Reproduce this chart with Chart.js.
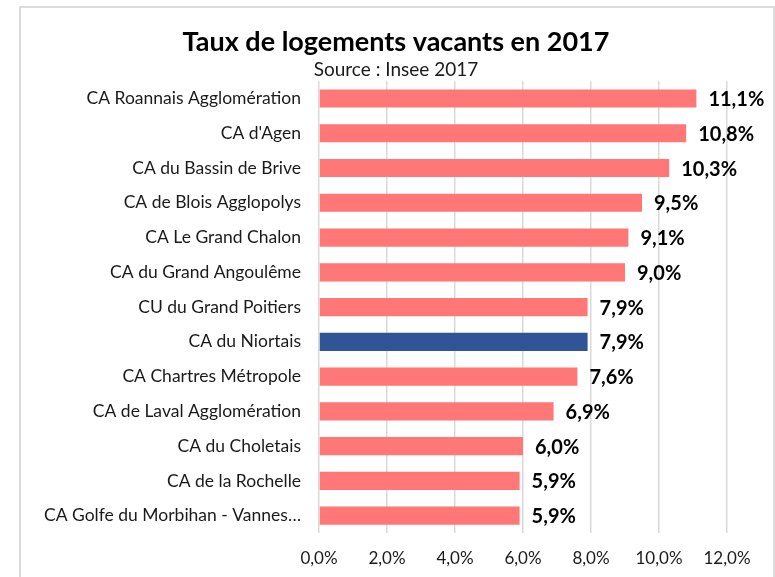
<!DOCTYPE html>
<html>
<head>
<meta charset="utf-8">
<script src="https://cdn.jsdelivr.net/npm/chart.js@4/dist/chart.umd.min.js"></script>
<style>
  html, body { margin: 0; padding: 0; background: #fff; }
  #wrap { position: relative; width: 775px; height: 577px; overflow: hidden; }
  #frame { position: absolute; left: 19px; top: 6px; width: 756px; height: 620px;
           border: 2px solid #dcdcdc; box-sizing: border-box; }
  canvas { position: absolute; left: 0; top: 0; }
</style>
</head>
<body>
<div id="wrap">
  <div id="frame"></div>
  <canvas id="chart" width="775" height="577"></canvas>
</div>
<script>
const categories = [
  'CA Roannais Agglomération',
  "CA d'Agen",
  'CA du Bassin de Brive',
  'CA de Blois Agglopolys',
  'CA Le Grand Chalon',
  'CA du Grand Angoulême',
  'CU du Grand Poitiers',
  'CA du Niortais',
  'CA Chartres Métropole',
  'CA de Laval Agglomération',
  'CA du Choletais',
  'CA de la Rochelle',
  'CA Golfe du Morbihan - Vannes…',
];
const vacancyRates = [11.1, 10.8, 10.3, 9.5, 9.1, 9.0, 7.9, 7.9, 7.6, 6.9, 6.0, 5.9, 5.9];
const highlighted = 'CA du Niortais';

const BAR_COLOUR = '#ff7777';
const HIGHLIGHT_COLOUR = '#2f5597';
const FONT = 'Lato, "Open Sans", sans-serif';
const TEXT = '#1a1a1a';

const fmt = (v) => v.toFixed(1).replace('.', ',') + '%';

// value labels to the right of each bar
const valueLabels = {
  id: 'valueLabels',
  afterDatasetsDraw(chart) {
    const { ctx } = chart;
    const meta = chart.getDatasetMeta(0);
    ctx.save();
    ctx.font = 'bold 20px ' + FONT;
    ctx.fillStyle = '#000';
    ctx.textBaseline = 'middle';
    meta.data.forEach((bar, i) => {
      ctx.fillText(fmt(vacancyRates[i]), bar.x + 12, bar.y + 1);
    });
    ctx.restore();
  },
};

new Chart(document.getElementById('chart'), {
  type: 'bar',
  data: {
    labels: categories,
    datasets: [{
      data: vacancyRates,
      backgroundColor: categories.map((c) => (c === highlighted ? HIGHLIGHT_COLOUR : BAR_COLOUR)),
      categoryPercentage: 1,
      barPercentage: 0.52,
    }],
  },
  options: {
    indexAxis: 'y',
    responsive: false,
    animation: false,
    // left padding keeps the title centred like the original
    layout: { padding: { left: 65, right: 48, top: 0, bottom: 0 } },
    plugins: {
      legend: { display: false },
      tooltip: { enabled: false },
      title: {
        display: true,
        text: 'Taux de logements vacants en 2017',
        color: '#000',
        font: { family: FONT, size: 27, weight: 'bold', lineHeight: 1.2 },
        padding: { top: 26, bottom: 0 },
      },
      subtitle: {
        display: true,
        text: 'Source : Insee 2017',
        color: TEXT,
        font: { family: FONT, size: 19, lineHeight: 1.2 },
        padding: { top: 0, bottom: 0 },
      },
    },
    scales: {
      x: {
        min: 0,
        max: 12,
        afterFit(scale) { scale.height = 44; },
        ticks: {
          stepSize: 2,
          padding: 15,
          color: TEXT,
          font: { family: FONT, size: 17 },
          callback: (v) => fmt(v),
        },
        grid: { color: '#d9d9d9', lineWidth: 1.5, drawTicks: false },
        border: { display: false },
      },
      y: {
        afterFit(scale) {
          scale.width = 254;
          scale._computeLabelArea = () => undefined; // long last label may spill past the padding
        },
        ticks: {
          padding: 18,
          color: TEXT,
          font: { family: FONT, size: 17.5 },
        },
        grid: { display: false, drawTicks: false },
        border: { display: false },
      },
    },
  },
  plugins: [valueLabels],
});
</script>
</body>
</html>
